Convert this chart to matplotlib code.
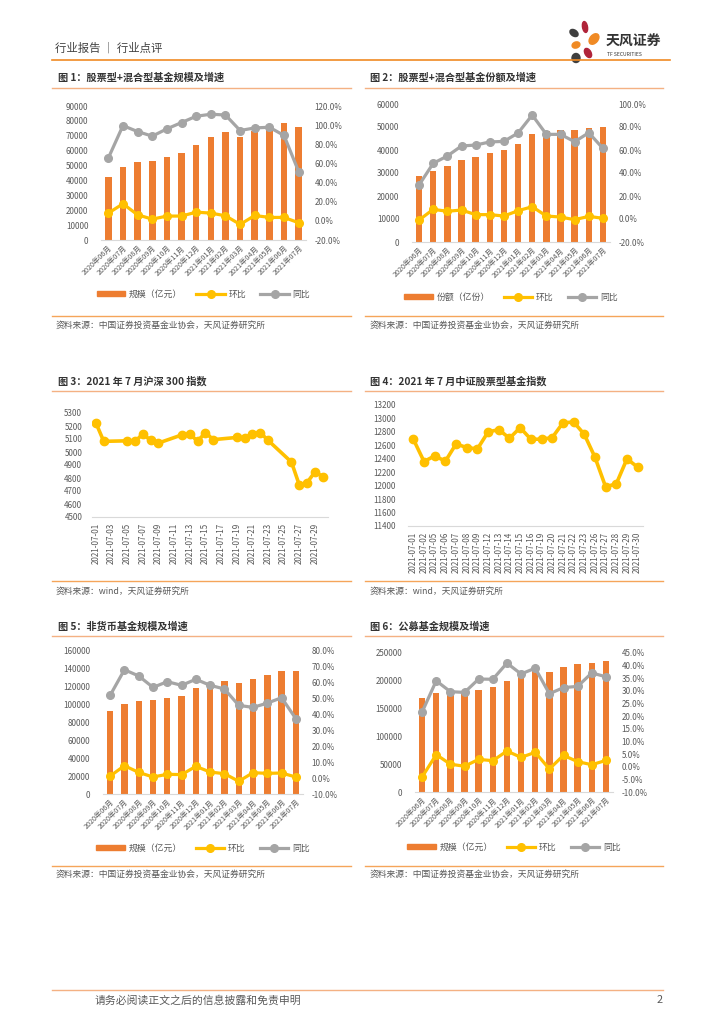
import numpy as np
import pandas as pd
import matplotlib
matplotlib.use("Agg")
import matplotlib.pyplot as plt
import matplotlib.dates as mdates
from matplotlib.lines import Line2D
from matplotlib.patches import Patch, Ellipse

plt.rcParams['font.family'] = ['Noto Sans CJK SC', 'DejaVu Sans']

W, H = 724, 1024
BAR = '#ED7D31'
YEL = '#FFC000'
GRY = '#A5A5A5'
TXT = '#595959'
LINE_OR = '#F4B183'

# ---- 数据 ----
months = ['2020年06月', '2020年07月', '2020年08月', '2020年09月', '2020年10月', '2020年11月', '2020年12月',
          '2021年01月', '2021年02月', '2021年03月', '2021年04月', '2021年05月', '2021年06月', '2021年07月']

# 图1 股票型+混合型基金规模
scale1 = [42000, 49300, 52200, 53300, 55800, 58500, 63800, 68900, 72500, 69400, 73100, 75700, 78300, 76000]
hb1 = [8.1, 17.8, 6.3, 1.8, 5.0, 5.0, 9.1, 8.1, 5.3, -3.7, 5.6, 3.6, 3.6, -2.0]
tb1 = [65.6, 99.5, 93.3, 88.5, 96.1, 102.7, 109.3, 111.4, 110.6, 94.4, 97.1, 97.8, 89.2, 51.4]

# 图2 股票型+混合型基金份额
share2 = [28700, 31000, 33200, 35800, 37100, 38600, 39900, 42600, 47100, 48100, 48800, 48600, 49600, 50000]
hb2 = [-0.9, 8.4, 6.7, 7.8, 3.8, 3.8, 2.6, 7.2, 10.7, 2.6, 1.7, -0.6, 2.3, 0.6]
tb2 = [29.6, 48.4, 54.8, 63.5, 64.3, 67.0, 67.5, 74.8, 90.4, 73.6, 73.6, 67.2, 75.0, 61.4]

# 图3 / 图4 交易日
days = ['2021-07-01', '2021-07-02', '2021-07-05', '2021-07-06', '2021-07-07', '2021-07-08', '2021-07-09',
        '2021-07-12', '2021-07-13', '2021-07-14', '2021-07-15', '2021-07-16', '2021-07-19', '2021-07-20',
        '2021-07-21', '2021-07-22', '2021-07-23', '2021-07-26', '2021-07-27', '2021-07-28', '2021-07-29',
        '2021-07-30']
hs300 = [5224, 5082, 5086, 5081, 5139, 5090, 5069, 5132, 5138, 5083, 5150, 5095, 5112, 5106,
         5140, 5150, 5090, 4922, 4746, 4765, 4847, 4811]
fund_idx = [12691, 12359, 12443, 12364, 12621, 12567, 12547, 12799, 12834, 12705, 12863, 12691, 12691, 12715,
            12933, 12948, 12765, 12424, 11983, 12028, 12399, 12275]

# 图5 非货币基金规模
scale5 = [93300, 100400, 104500, 104900, 107100, 109700, 118300, 122800, 126900, 124600, 128700, 132800, 137300, 138000]
hb5 = [1.3, 7.8, 3.6, 0.7, 2.4, 2.2, 7.4, 3.8, 2.8, -2.0, 3.4, 3.0, 3.2, 0.7]
tb5 = [52.1, 68.2, 64.3, 57.1, 60.7, 58.4, 62.2, 58.4, 56.1, 45.8, 44.5, 47.2, 50.6, 37.4]

# 图6 公募基金规模
scale6 = [169000, 177500, 179000, 179500, 183500, 188200, 199600, 207000, 219000, 216400, 225400, 230200, 232000, 236200]
hb6 = [-4.1, 4.8, 1.0, 0.2, 2.9, 2.4, 6.2, 3.7, 5.7, -0.9, 4.5, 2.0, 0.8, 2.5]
tb6 = [21.6, 34.0, 29.7, 29.4, 34.7, 34.6, 41.0, 36.7, 39.0, 28.9, 31.3, 31.8, 37.1, 35.6]

fig = plt.figure(figsize=(W / 100, H / 100), dpi=100)


def fx(x):
    return x / W


def fy(y):
    return 1 - y / H


def px_axes(x0, y0, x1, y1):
    return fig.add_axes([fx(x0), fy(y1), (x1 - x0) / W, (y1 - y0) / H])


def hline(x0, x1, y, color, lw):
    fig.add_artist(Line2D([fx(x0), fx(x1)], [fy(y), fy(y)], color=color, lw=lw))


def ftext(x, y, s, **kw):
    kw.setdefault('va', 'center')
    fig.text(fx(x), fy(y), s, **kw)


def style(ax):
    for s in ['top', 'left', 'right']:
        ax.spines[s].set_visible(False)
    ax.spines['bottom'].set_color('#D9D9D9')
    ax.spines['bottom'].set_linewidth(0.8)
    ax.tick_params(length=0, colors=TXT, labelsize=5.8)


def bar_chart(box, vals, hb, tb, ylim, ystep, y2lim, y2step, bar_lbl, leg_y):
    ax = px_axes(*box)
    x = np.arange(len(months))
    ax.bar(x, vals, width=0.45, color=BAR, zorder=2)
    ax.set_xlim(-0.5, len(months) - 0.5)
    ax.set_ylim(*ylim)
    ax.set_yticks(np.arange(ylim[0], ylim[1] + 1, ystep))
    ax.set_xticks(x)
    ax.set_xticklabels(months, rotation=45, ha='right', rotation_mode='anchor')
    style(ax)
    ax.tick_params(axis='y', pad=9)
    ax.tick_params(axis='x', pad=3, labelsize=5.2)
    ax2 = ax.twinx()
    ax2.plot(x, hb, color=YEL, lw=2.3, marker='o', ms=5.5, zorder=3)
    ax2.plot(x, tb, color=GRY, lw=2.3, marker='o', ms=5.5, zorder=3)
    ax2.set_ylim(*y2lim)
    ax2.set_yticks(np.arange(y2lim[0], y2lim[1] + 0.01, y2step))
    ax2.set_yticklabels(['{:.1f}%'.format(v) for v in ax2.get_yticks()])
    style(ax2)
    ax2.spines['bottom'].set_visible(False)
    ax2.tick_params(axis='y', pad=6)
    handles = [Patch(color=BAR),
               Line2D([], [], color=YEL, lw=2.3, marker='o', ms=5.5),
               Line2D([], [], color=GRY, lw=2.3, marker='o', ms=5.5)]
    cx = (box[0] + box[2]) / 2
    fig.legend(handles, [bar_lbl, '环比', '同比'], loc='center', ncol=3, frameon=False,
               bbox_to_anchor=(fx(cx), fy(leg_y)), fontsize=6.4, labelcolor=TXT,
               handlelength=3.2, handleheight=0.5, columnspacing=1.6, handletextpad=0.4)
    return ax


# ---- 页眉 ----
ftext(55, 48, '行业报告 ｜ 行业点评', fontsize=8.2, color='#404040')
hline(52, 670, 60, '#F08A24', 1.2)

lg = fig.add_axes([fx(565), fy(66), 110 / W, 48 / H])
lg.set_xlim(565, 675)
lg.set_ylim(66, 18)
lg.axis('off')
lg.add_patch(Ellipse((574, 33), 9, 6, angle=35, color='#3F3F3F'))
lg.add_patch(Ellipse((585, 27), 5, 11, angle=-10, color='#B0243A'))
lg.add_patch(Ellipse((594, 39), 8, 12, angle=40, color='#F08A24'))
lg.add_patch(Ellipse((576, 45), 8, 6, angle=-20, color='#F08A24'))
lg.add_patch(Ellipse((588, 53), 6, 10, angle=-30, color='#B0243A'))
lg.add_patch(Ellipse((576, 58), 8, 9, angle=0, color='#3F3F3F'))
ftext(606, 42, '天风证券', fontsize=10, fontweight='bold', color='#333333')
ftext(607, 55, 'TF SECURITIES', fontsize=3.6, color='#333333')

# ---- 标题与分隔线 ----
titles = [(58, 78, '图 1：股票型+混合型基金规模及增速'),
          (370, 78, '图 2：股票型+混合型基金份额及增速'),
          (58, 381, '图 3：2021 年 7 月沪深 300 指数'),
          (370, 381, '图 4：2021 年 7 月中证股票型基金指数'),
          (58, 627, '图 5：非货币基金规模及增速'),
          (370, 627, '图 6：公募基金规模及增速')]
for tx, ty, t in titles:
    ftext(tx, ty, t, fontsize=7.3, fontweight='bold', color='#333333')

for y in [88, 391, 636]:
    hline(52, 351, y, LINE_OR, 1.0)
    hline(365, 663, y, LINE_OR, 1.0)

src1 = '资料来源：中国证券投资基金业协会，天风证券研究所'
src2 = '资料来源：wind，天风证券研究所'
for ly, ty, s in [(316, 325, src1), (581, 591, src2), (866, 874, src1)]:
    hline(52, 351, ly, '#F5A55A', 1.0)
    hline(365, 663, ly, '#F5A55A', 1.0)
    ftext(56, ty, s, fontsize=6.3, color=TXT)
    ftext(370, ty, s, fontsize=6.3, color=TXT)

# ---- 图1 / 图2 ----
bar_chart((101, 106, 306, 240), scale1, hb1, tb1, (0, 90000), 10000, (-20, 120), 20, '规模（亿元）', 294)
bar_chart((412, 104, 610, 242), share2, hb2, tb2, (0, 60000), 10000, (-20, 100), 20, '份额（亿份）', 297)

# ---- 图3 沪深300 ----
ax3 = px_axes(92, 413, 328, 517)
d = pd.to_datetime(days)
ax3.plot(d, hs300, color=YEL, lw=2.6, marker='o', ms=6)
ax3.set_xlim(pd.Timestamp('2021-06-30 12:00'), pd.Timestamp('2021-07-30 16:00'))
ax3.set_ylim(4500, 5300)
ax3.set_yticks(np.arange(4500, 5301, 100))
ax3.xaxis.set_major_locator(mdates.DayLocator(bymonthday=range(1, 31, 2)))
ax3.xaxis.set_major_formatter(mdates.DateFormatter('%Y-%m-%d'))
style(ax3)
plt.setp(ax3.get_xticklabels(), rotation=90)
ax3.tick_params(axis='y', pad=7)
ax3.tick_params(axis='x', pad=4)

# ---- 图4 中证股票型基金指数 ----
ax4 = px_axes(408, 405, 643, 526)
x4 = np.arange(len(days))
ax4.plot(x4, fund_idx, color=YEL, lw=2.6, marker='o', ms=6)
ax4.set_xlim(-0.5, len(days) - 0.5)
ax4.set_ylim(11400, 13200)
ax4.set_yticks(np.arange(11400, 13201, 200))
ax4.set_xticks(x4)
ax4.set_xticklabels(days, rotation=90)
style(ax4)
ax4.tick_params(axis='y', pad=9)
ax4.tick_params(axis='x', pad=4)

# ---- 图5 / 图6 ----
bar_chart((103, 651, 303, 794), scale5, hb5, tb5, (0, 160000), 20000, (-10, 80), 10, '规模（亿元）', 848)
bar_chart((415, 653, 613, 792), scale6, hb6, tb6, (0, 250000), 50000, (-10, 45), 5, '规模（亿元）', 847)

# ---- 页脚 ----
hline(52, 663, 990, LINE_OR, 1.0)
ftext(95, 1000, '请务必阅读正文之后的信息披露和免责申明', fontsize=7.8, color=TXT)
ftext(657, 1000, '2', fontsize=7.8, color=TXT)

fig.savefig('out.png', dpi=100)
